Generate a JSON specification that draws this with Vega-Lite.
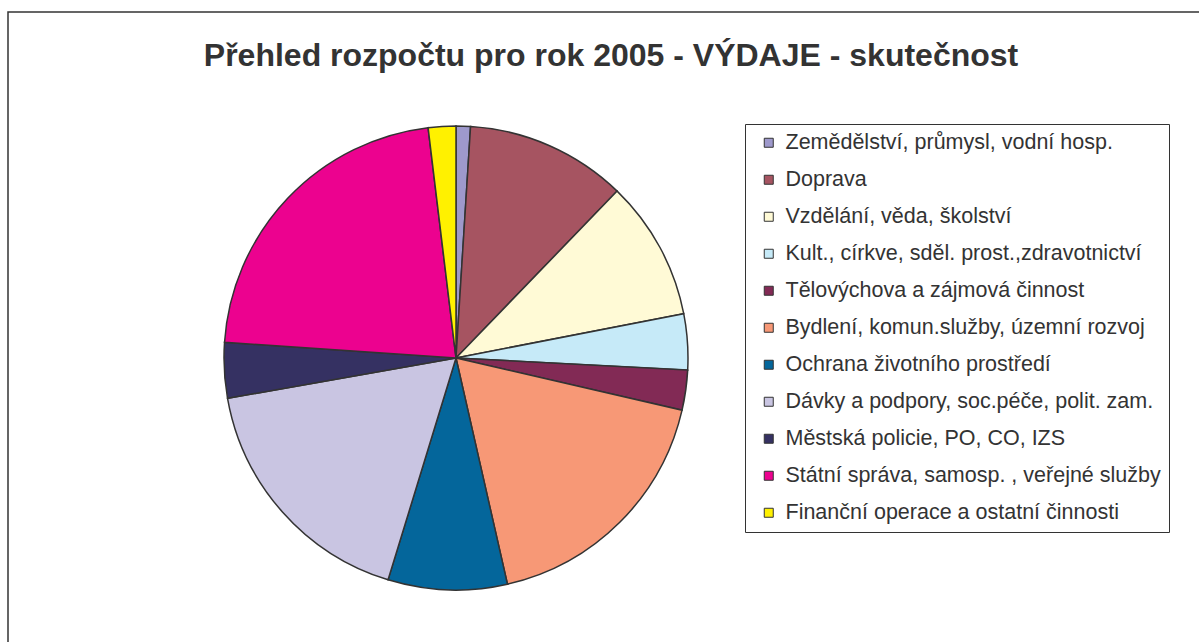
{
  "$schema": "https://vega.github.io/schema/vega-lite/v6.json",
  "width": 1250,
  "height": 700,
  "autosize": {"type": "none"},
  "padding": {"left": 8, "top": 12, "right": 0, "bottom": 0},
  "background": "white",
  "title": {
    "text": "Přehled rozpočtu pro rok 2005 - VÝDAJE - skutečnost",
    "font": "Liberation Sans",
    "fontSize": 32,
    "fontWeight": "bold",
    "color": "#333333",
    "anchor": "middle",
    "offset": -61,
    "dx": -22
  },
  "data": {
    "values": [
      {"idx": 1, "kategorie": "Zemědělství, průmysl, vodní hosp.", "podil": 1.0},
      {"idx": 2, "kategorie": "Doprava", "podil": 11.22},
      {"idx": 3, "kategorie": "Vzdělání, věda, školství", "podil": 9.72},
      {"idx": 4, "kategorie": "Kult., církve, sděl. prost.,zdravotnictví", "podil": 3.89},
      {"idx": 5, "kategorie": "Tělovýchova a zájmová činnost", "podil": 2.78},
      {"idx": 6, "kategorie": "Bydlení, komun.služby, územní rozvoj", "podil": 17.83},
      {"idx": 7, "kategorie": "Ochrana životního prostředí", "podil": 8.29},
      {"idx": 8, "kategorie": "Dávky a podpory, soc.péče, polit. zam.", "podil": 17.49},
      {"idx": 9, "kategorie": "Městská policie, PO, CO, IZS", "podil": 3.86},
      {"idx": 10, "kategorie": "Státní správa, samosp. , veřejné služby", "podil": 22.0},
      {"idx": 11, "kategorie": "Finanční operace a ostatní činnosti", "podil": 1.92}
    ]
  },
  "layer": [
    {
      "mark": {"type": "rule", "opacity": 0},
      "encoding": {
        "x": {"datum": 0, "type": "quantitative", "axis": null}
      }
    },
    {
      "mark": {
        "type": "arc",
        "x": 448,
        "y": 346,
        "outerRadius": 232,
        "stroke": "#333333",
        "strokeWidth": 1.5
      },
      "encoding": {
        "theta": {"field": "podil", "type": "quantitative", "stack": true},
        "order": {"field": "idx", "type": "quantitative"},
        "color": {
          "field": "kategorie",
          "type": "nominal",
          "scale": {
            "domain": [
              "Zemědělství, průmysl, vodní hosp.",
              "Doprava",
              "Vzdělání, věda, školství",
              "Kult., církve, sděl. prost.,zdravotnictví",
              "Tělovýchova a zájmová činnost",
              "Bydlení, komun.služby, územní rozvoj",
              "Ochrana životního prostředí",
              "Dávky a podpory, soc.péče, polit. zam.",
              "Městská policie, PO, CO, IZS",
              "Státní správa, samosp. , veřejné služby",
              "Finanční operace a ostatní činnosti"
            ],
            "range": ["#9E99CC", "#A65461", "#FFFAD6", "#C6EAF8", "#822A55", "#F79876", "#04669B", "#C9C5E2", "#353162", "#EC028F", "#FFF100"]
          },
          "legend": {
            "orient": "none",
            "legendX": 737,
            "legendY": 112,
            "title": null,
            "labelFont": "Liberation Sans",
            "labelFontSize": 21.5,
            "labelColor": "#333333",
            "labelLimit": 600,
            "labelOffset": 6,
            "symbolType": "square",
            "symbolSize": 81,
            "symbolOffset": 5,
            "symbolStrokeColor": "#333333",
            "symbolStrokeWidth": 1,
            "rowPadding": 14,
            "strokeColor": "#333333",
            "padding": 8
          }
        }
      }
    }
  ],
  "config": {
    "view": {"stroke": "#333333", "strokeWidth": 1.5}
  }
}
